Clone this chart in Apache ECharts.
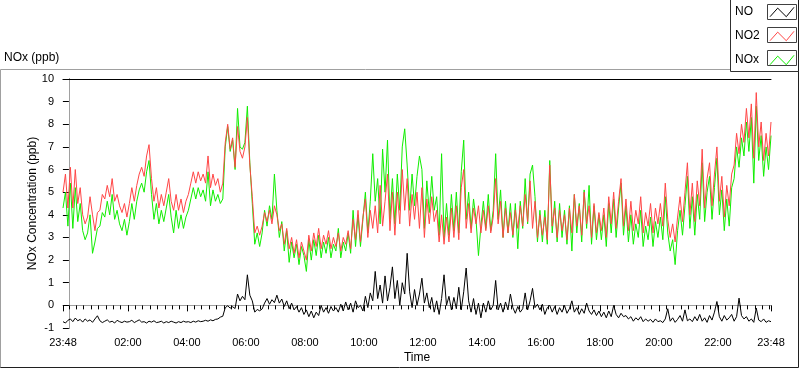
<!DOCTYPE html>
<html><head><meta charset="utf-8">
<script src="https://cdn.jsdelivr.net/npm/echarts@6/dist/echarts.min.js"></script>
<style>html,body{margin:0;padding:0;background:#fff}#c{width:800px;height:369px}</style>
</head><body><div id="c"></div>
<script>
// sampling: first sample at 23:48 (hour -0.2), one sample every 5 minutes
const startHour = -0.2;
const stepHours = 5 / 60;
const seriesNames = ['NO', 'NO2', 'NOx'];
const seriesColors = ['#000000', '#ff4646', '#10ee00'];
const xTickLabelHours = [-0.2, 2, 4, 6, 8, 10, 12, 14, 16, 18, 20, 22, 23.8];

const no2 = [
  5.0, 5.8, 4.3,
  6.1, 4.3, 6.0, 4.5, 5.2, 4.0, 3.6, 3.9, 4.8, 4.0, 3.3, 4.1,
  4.2, 4.9, 4.7, 5.3, 4.8, 5.6, 4.6, 4.9, 4.4, 4.1, 4.5, 3.9,
  4.5, 5.2, 4.6, 5.3, 5.8, 6.1, 5.7, 6.6, 7.1, 5.6, 4.6, 5.2,
  4.3, 4.9, 4.4, 5.0, 5.6, 4.6, 4.2, 4.9, 4.2, 4.7, 4.1, 4.6,
  4.9, 5.4, 5.9, 5.4, 5.9, 5.5, 5.8, 5.4, 6.6, 5.2, 5.8, 5.3,
  5.6, 5.0, 5.4, 7.2, 8.0, 6.9, 7.4, 6.1, 7.9, 6.8, 6.5, 7.0,
  8.3, 6.2, 4.8, 3.2, 3.5, 3.1, 3.5, 4.1, 3.7, 4.2, 3.6, 4.4,
  4.0, 3.3, 3.6, 2.7, 3.4, 2.5, 3.0, 2.3, 2.9, 2.1, 2.8, 2.4,
  2.0, 3.1, 2.4, 3.2, 2.6, 3.4, 2.5, 3.1, 2.7, 3.3, 2.5, 3.0,
  2.6, 3.2, 2.4, 3.0, 2.7, 3.3, 2.5, 3.8, 2.9, 4.2, 2.8, 3.9,
  4.7, 3.0, 4.2, 3.4, 4.4, 3.2, 5.3, 3.5, 4.6, 5.8, 3.3, 5.0,
  3.1, 5.0, 3.6, 6.0, 4.2, 5.6, 3.5, 4.9, 3.8, 5.0, 3.4, 5.2,
  3.0, 4.7, 3.6, 4.8, 3.7, 4.2, 2.8, 4.0, 2.7, 3.9, 2.8, 4.3,
  3.0, 4.4, 2.9, 5.2, 6.0, 3.4, 4.5, 3.2, 4.3, 3.6, 4.4, 3.2,
  4.2, 3.3, 4.4, 3.2, 3.9, 5.6, 3.6, 4.6, 3.0, 4.3, 3.2, 4.1,
  3.1, 4.2, 3.4, 4.4, 3.5, 4.9, 3.7, 5.5, 3.4, 4.6, 3.0, 4.0,
  3.1, 3.9, 2.9, 6.2, 3.5, 4.3, 3.0, 4.2, 3.3, 4.0, 2.9, 4.3,
  3.2, 4.9, 3.5, 4.4, 3.1, 5.0, 3.6, 4.4, 3.0, 4.5, 3.2, 4.1,
  3.3, 4.3, 3.0, 4.8, 3.6, 5.0, 3.4, 4.6, 5.6, 3.5, 4.7, 3.3,
  4.6, 3.3, 4.2, 3.6, 4.8, 3.2, 4.1, 3.5, 4.5, 3.2, 4.3, 3.6,
  4.5, 3.5, 5.4, 3.8, 3.0, 3.6, 2.8, 3.9, 4.8, 3.7, 5.0, 6.3,
  4.0, 5.4, 3.7, 5.5, 4.4, 6.9, 4.3, 5.6, 6.3, 4.4, 5.8, 7.0,
  4.6, 5.7, 3.9, 5.3, 4.4, 5.8, 6.2, 7.6, 6.7, 8.0, 7.2, 8.7,
  7.4, 8.9, 6.5, 9.4, 7.0, 8.1, 6.4, 7.6, 6.6, 8.1
];

const nox = [
  4.3, 5.0, 3.5,
  5.4, 3.4, 5.2, 3.7, 4.5, 3.3, 2.9, 3.2, 4.0, 2.3, 2.8, 3.4,
  3.5, 4.1, 3.9, 4.6, 4.0, 4.9, 3.8, 4.2, 3.6, 3.3, 3.8, 3.1,
  3.7, 4.5, 3.8, 4.6, 5.1, 5.4, 5.0, 5.9, 6.4, 4.9, 3.8, 4.5,
  3.6, 4.2, 3.7, 4.3, 4.9, 3.9, 3.2, 4.2, 3.4, 4.0, 3.4, 3.9,
  4.2, 4.7, 5.2, 4.7, 5.2, 4.8, 5.1, 4.6, 5.9, 4.4, 5.1, 4.6,
  4.9, 4.5, 4.7, 7.0, 7.9, 6.8, 7.3, 6.0, 8.7, 7.0, 6.9, 7.2,
  8.8, 6.3, 4.5, 2.7, 3.2, 2.6, 3.2, 4.2, 3.5, 4.4, 3.8, 5.8,
  4.2, 3.0, 3.7, 2.4, 3.3, 1.9, 2.8, 2.1, 2.7, 1.8, 2.6, 2.2,
  1.5, 2.9, 2.0, 2.9, 2.2, 3.1, 2.1, 2.8, 2.3, 3.0, 2.1, 2.7,
  2.4, 3.4, 2.1, 2.8, 2.4, 3.2, 2.3, 4.2, 2.6, 4.0, 2.6, 3.8,
  5.0, 3.2, 4.6, 6.7, 4.6, 5.6, 3.6, 6.9, 5.0, 7.3, 3.8, 5.6,
  3.6, 5.8, 4.2, 7.0, 7.8, 6.2, 4.2, 5.8, 4.4, 5.7, 6.6, 6.0,
  3.4, 5.5, 4.1, 5.7, 4.2, 4.8, 3.1, 6.7, 3.0, 4.5, 3.1, 4.9,
  3.3, 5.0, 3.2, 5.9, 7.3, 3.8, 5.0, 3.4, 4.7, 3.8, 2.2, 3.5,
  4.6, 3.4, 4.9, 3.3, 4.2, 6.7, 3.8, 5.1, 3.0, 4.6, 3.2, 4.5,
  3.0, 4.5, 2.5, 4.6, 3.4, 5.6, 3.6, 5.8, 6.2, 4.8, 2.8, 4.2,
  2.8, 4.2, 2.7, 6.4, 3.2, 4.6, 2.8, 4.5, 3.0, 4.2, 2.7, 4.4,
  2.4, 4.9, 3.2, 4.5, 2.8, 5.1, 3.4, 5.3, 2.7, 4.4, 2.9, 4.0,
  2.9, 4.0, 2.6, 4.5, 3.2, 4.7, 3.0, 4.3, 5.4, 3.1, 4.4, 2.8,
  4.0, 2.7, 3.6, 3.0, 4.2, 2.6, 3.5, 2.9, 3.9, 2.6, 3.7, 3.0,
  3.9, 2.9, 4.8, 3.2, 2.4, 2.9, 1.8, 3.3, 4.2, 3.1, 4.4, 5.7,
  3.4, 4.8, 3.1, 4.9, 3.8, 6.3, 3.7, 5.0, 5.7, 3.8, 5.2, 6.5,
  4.0, 5.1, 3.3, 4.7, 3.5, 5.2, 5.6, 7.0, 6.1, 7.4, 6.6, 8.1,
  6.8, 8.3, 5.4, 8.8, 6.4, 7.5, 5.7, 7.0, 6.0, 7.5
];

const no = [
  -0.72, -0.78, -0.66,
  -0.6, -0.72, -0.56, -0.68, -0.62, -0.74, -0.6, -0.7, -0.64, -0.75, -0.6, -0.46,
  -0.68, -0.76, -0.7, -0.64, -0.74, -0.7, -0.78, -0.66, -0.72, -0.76, -0.7, -0.74,
  -0.72, -0.66, -0.76, -0.7, -0.64, -0.74, -0.72, -0.78, -0.7, -0.74, -0.68, -0.76,
  -0.74, -0.7, -0.78, -0.72, -0.76, -0.7, -0.74, -0.78, -0.72, -0.76, -0.7, -0.74,
  -0.72, -0.76, -0.7, -0.74, -0.68, -0.72, -0.7, -0.66, -0.7, -0.64, -0.68, -0.62,
  -0.6, -0.52, -0.48, -0.1, -0.02, -0.12, -0.06, -0.14, 0.5, 0.2, 0.4, 0.25,
  1.35, 0.45, 0.2, -0.3, -0.18, -0.24, -0.16, 0.1, 0.3, 0.05, 0.25, 0.12,
  0.45, 0.1, 0.28, -0.05, 0.2, -0.15, 0.1, -0.2, -0.05, -0.3, -0.1, -0.4,
  -0.2, -0.5, -0.25, -0.55, -0.3, -0.45, 0.0, -0.3, -0.1, -0.35, -0.05, -0.25,
  -0.1, -0.3, 0.05, -0.25, 0.15, -0.2, 0.1, -0.3, 0.2, -0.1, 0.0, -0.25,
  0.4, -0.1, 0.55, 0.2, 1.5, 0.3, 0.9, 0.1, 1.3, 0.2, 0.8, 1.7,
  0.3, 1.1, 0.0, 1.0, 0.5, 2.3, 0.6, -0.1, 0.7, 0.0, 0.5, 1.2,
  0.1, 0.55, -0.1, 0.35, -0.3, 0.2, -0.4, 0.3, 1.35, 0.0, 0.4, -0.2,
  0.35, -0.15, 0.8, -0.2, 0.6, 1.65, 0.2, -0.3, 0.3, -0.4, 0.1, -0.55,
  0.1, -0.3, 0.2, -0.2, 0.0, 1.1, -0.2, 0.1, -0.3, 0.15, -0.2, 0.5,
  -0.1, -0.35, -0.05, -0.3, -0.15, 0.55, -0.2, 0.2, 0.75, -0.1, 0.05, -0.2,
  0.05, -0.4, -0.1, 0.0, -0.3, -0.05, -0.4, -0.1, -0.3, 0.0, -0.35, -0.15,
  0.2, -0.3, -0.1, -0.4, -0.15, -0.35, 0.1, -0.25, -0.4, -0.2, -0.45, -0.25,
  -0.5, -0.3, -0.55, -0.25, -0.5, 0.0, -0.4, -0.55, -0.35, -0.5, -0.45, -0.6,
  -0.5, -0.7, -0.55, -0.65, -0.5, -0.72, -0.6, -0.7, -0.62, -0.75, -0.6, -0.72,
  -0.68, -0.76, -0.6, -0.15, -0.7, -0.55, -0.75, -0.62, -0.45, -0.7, -0.2, -0.68,
  -0.6, -0.72, -0.5, -0.68, -0.4, -0.7, -0.55, -0.75, -0.45, -0.65, -0.3, 0.17,
  -0.5, -0.7, -0.45, -0.65, -0.55, -0.4, -0.7, -0.5, 0.32, -0.45, -0.6, -0.5,
  -0.7, -0.6, -0.75, -0.12, -0.65, -0.72, -0.6, -0.75, -0.68, -0.72
];

function pairs(vals) {
  return vals.map((v, i) => [startHour + i * stepHours, v]);
}
function fmtHour(v) {
  let h = v < 0 ? v + 24 : v;
  let mins = Math.round(h * 60);
  const hh = Math.floor(mins / 60) % 24, mm = mins % 60;
  return String(hh).padStart(2, '0') + ':' + String(mm).padStart(2, '0');
}
const minorTickHours = [];
for (let q = 0; q < 96; q++) minorTickHours.push(q * 0.25);

const FONT = 'Liberation Sans';
const chart = echarts.init(document.getElementById('c'), null, {renderer: 'canvas'});
const zig = 'path://M0,11 L9,1 L19,11 L28,0';
chart.setOption({
  animation: false,
  backgroundColor: '#fff',
  textStyle: {fontFamily: FONT, color: '#000'},
  title: {text: 'NOx (ppb)', left: 4, top: 52, padding: 0,
    textStyle: {fontSize: 12, fontWeight: 'normal', color: '#000', fontFamily: FONT}},
  legend: {
    orient: 'vertical', left: 735, top: 6, padding: 0, itemGap: 12,
    itemWidth: 24, itemHeight: 11, align: 'right', icon: zig,
    data: seriesNames.map((n, i) => ({name: n,
      itemStyle: {color: 'transparent', borderColor: seriesColors[i], borderWidth: 1}})),
    formatter: '{a|{name}}',
    textStyle: {fontSize: 12, color: '#000', fontFamily: FONT,
      rich: {a: {width: 30, align: 'left', fontSize: 12, fontFamily: FONT, color: '#000'}}},
    selectedMode: false
  },
  grid: {left: 63, right: 29, top: 79, bottom: 39, containLabel: false},
  xAxis: [
    {type: 'value', min: -0.2, max: 23.8, position: 'bottom',
      name: 'Time', nameLocation: 'middle', nameGap: 24, nameMoveOverlap: false,
      nameTextStyle: {fontSize: 12, color: '#000', fontFamily: FONT},
      axisLine: {show: true, lineStyle: {color: '#a0a0a0', width: 1}},
      axisTick: {show: true, customValues: xTickLabelHours, length: 6, lineStyle: {color: '#000'}},
      axisLabel: {customValues: xTickLabelHours, formatter: fmtHour, fontSize: 11, margin: 9, color: '#000', fontFamily: FONT, showMinLabel: true, showMaxLabel: true},
      splitLine: {show: false}},
    {type: 'value', min: -0.2, max: 23.8, position: 'bottom', offset: 0,
      axisLine: {show: false},
      axisTick: {show: true, customValues: minorTickHours, length: 4, lineStyle: {color: '#000'}},
      axisLabel: {show: false}, splitLine: {show: false}},
    {type: 'value', min: -0.2, max: 23.8, position: 'top',
      axisLine: {show: true, lineStyle: {color: '#000', width: 1}},
      axisTick: {show: false}, axisLabel: {show: false}, splitLine: {show: false}}
  ],
  yAxis: [
    {type: 'value', min: -1, max: 10, interval: 1, position: 'left',
      name: 'NOx Concentration (ppb)', nameLocation: 'middle', nameGap: 24, nameRotate: 90, nameMoveOverlap: false,
      nameTextStyle: {fontSize: 12, color: '#000', fontFamily: FONT},
      axisLine: {show: true, lineStyle: {color: '#000', width: 1}},
      axisTick: {show: true, length: 6, lineStyle: {color: '#000'}},
      axisLabel: {fontSize: 11, margin: 9, color: '#000', fontFamily: FONT},
      splitLine: {show: false}},
    {type: 'value', min: -1, max: 10, interval: 1, position: 'right',
      axisLine: {show: true, lineStyle: {color: '#a0a0a0', width: 1}},
      axisTick: {show: false}, axisLabel: {show: false}, splitLine: {show: false}}
  ],
  series: [
    {name: 'NOx', type: 'line', data: pairs(nox), showSymbol: false, symbol: 'none',
      lineStyle: {color: seriesColors[2], width: 1}, itemStyle: {color: seriesColors[2]}},
    {name: 'NO2', type: 'line', data: pairs(no2), showSymbol: false, symbol: 'none',
      lineStyle: {color: seriesColors[1], width: 1}, itemStyle: {color: seriesColors[1]}},
    {name: 'NO', type: 'line', data: pairs(no), showSymbol: false, symbol: 'none',
      lineStyle: {color: seriesColors[0], width: 1}, itemStyle: {color: seriesColors[0]}}
  ],
  graphic: [
    {type: 'polyline', silent: true, shape: {points: [[0.5, 368], [0.5, 69.5], [730.5, 69.5]]}, style: {stroke: '#a0a0a0', fill: null, lineWidth: 1}},
    {type: 'polyline', silent: true, shape: {points: [[0.5, 367.5], [798.5, 367.5], [798.5, 0]]}, style: {stroke: '#202020', fill: null, lineWidth: 1}},
    {type: 'polyline', silent: true, shape: {points: [[730.5, 0], [730.5, 71.5], [799, 71.5]]}, style: {stroke: '#303030', fill: null, lineWidth: 1}},
    {type: 'rect', silent: true, shape: {x: 767.5, y: 4.5, width: 29, height: 15}, style: {stroke: '#404040', fill: null, lineWidth: 1}},
    {type: 'rect', silent: true, shape: {x: 767.5, y: 27.5, width: 29, height: 15}, style: {stroke: '#404040', fill: null, lineWidth: 1}},
    {type: 'rect', silent: true, shape: {x: 767.5, y: 50.5, width: 29, height: 15}, style: {stroke: '#404040', fill: null, lineWidth: 1}}
  ]
});
</script></body></html>
